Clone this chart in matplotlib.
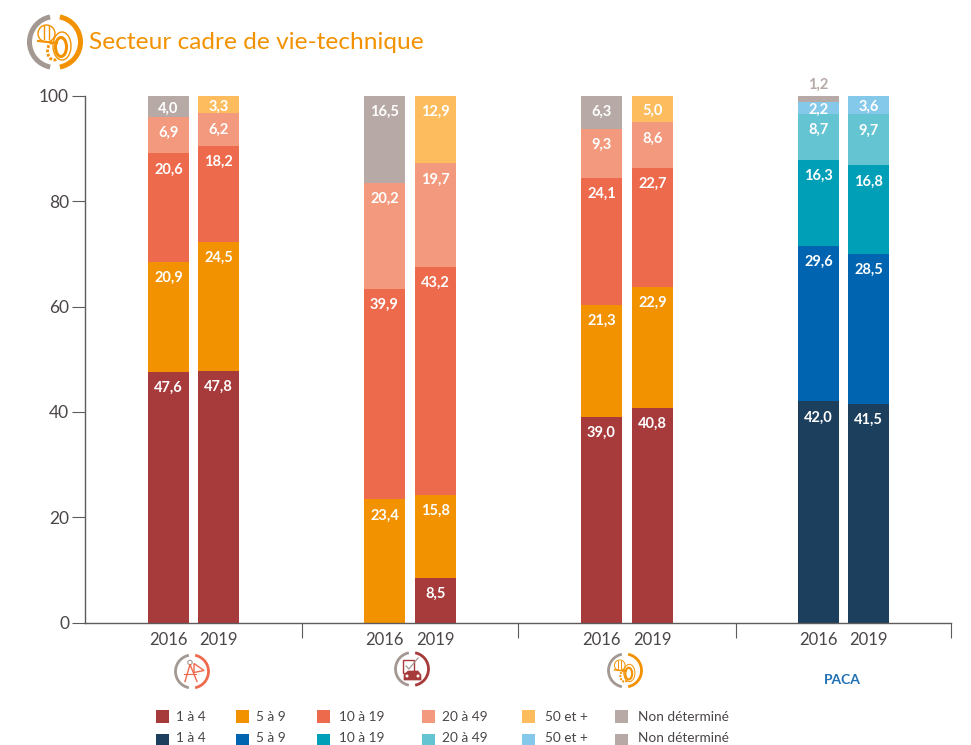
import matplotlib
matplotlib.use("Agg")
import matplotlib.pyplot as plt
from matplotlib.patches import Arc, Circle, Ellipse, Polygon, Rectangle

plt.rcParams['font.family'] = ['Lato', 'DejaVu Sans']

#--Donnees------------------------------
annees = ["2016", "2019"]
tranches = ["1 à 4", "5 à 9", "10 à 19", "20 à 49", "50 et +", "Non déterminé"]

archi_2016 = [47.6, 20.9, 20.6, 6.9, 0, 4.0]
archi_2019 = [47.8, 24.5, 18.2, 6.2, 3.3, 0]
auto_2016 = [0, 23.4, 39.9, 20.2, 0, 16.5]
auto_2019 = [8.5, 15.8, 43.2, 19.7, 12.9, 0]
tech_2016 = [39.0, 21.3, 24.1, 9.3, 0, 6.3]
tech_2019 = [40.8, 22.9, 22.7, 8.6, 5.0, 0]
paca_2016 = [42.0, 29.6, 16.3, 8.7, 2.2, 1.2]
paca_2019 = [41.5, 28.5, 16.8, 9.7, 3.6, 0]

couleurs_secteur = ["#a73a3b", "#f39200", "#ee6a4d", "#f3997d", "#fdbd5e", "#b7aaa6"]
couleurs_paca = ["#1c3f5e", "#0064b0", "#009fb8", "#65c4d2", "#85c9ea", "#b7aaa6"]

barres = [archi_2016, archi_2019, auto_2016, auto_2019,
          tech_2016, tech_2019, paca_2016, paca_2019]
couleurs = [couleurs_secteur] * 6 + [couleurs_paca] * 2
x_barres = [168.5, 218.5, 384.5, 435.5, 601.5, 652.5, 818.5, 868.5]
separateurs = [301.5, 518, 736, 951]

W, H = 971, 745
GRIS_TEXTE = "#4a4546"
GRIS_AXE = "#5f5a5b"
ORANGE = "#f39200"
GRIS_ICONE = "#a39892"
PX_PAR_UNITE = (622.5 - 96) / 100

fig = plt.figure(figsize=(W / 100, H / 100), dpi=100)
ax = fig.add_axes([85 / W, 1 - 622.5 / H, (951 - 85) / W, (622.5 - 96) / H])

#--Barres-------------------------------
for x, valeurs, cols in zip(x_barres, barres, couleurs):
    bas = 0
    for v, c in zip(valeurs, cols):
        if v == 0:
            continue
        ax.bar(x, v, bottom=bas, width=41, color=c, linewidth=0)
        haut_px = v * PX_PAR_UNITE
        texte = f"{v:.1f}".replace(".", ",")
        if haut_px < 8:
            # segment trop fin : valeur au dessus de la barre
            ax.annotate(texte, (x, bas + v), xytext=(0, 11 * 0.72), textcoords="offset points",
                        ha="center", va="center", color=c, fontsize=10.5, fontweight="bold",
                        annotation_clip=False)
        else:
            decal = min(14, haut_px / 2) + 2
            ax.annotate(texte, (x, bas + v), xytext=(0, -decal * 0.72), textcoords="offset points",
                        ha="center", va="center", color="white", fontsize=10.5, fontweight="bold",
                        annotation_clip=False)
        bas += v

#--Axes---------------------------------
ax.set_xlim(85, 951)
ax.set_ylim(0, 100)
ax.spines["top"].set_visible(False)
ax.spines["right"].set_visible(False)
for s in ["left", "bottom"]:
    ax.spines[s].set_color(GRIS_AXE)
    ax.spines[s].set_linewidth(1.0)
ax.set_yticks(range(0, 101, 20))
ax.tick_params(axis="y", length=9.5, width=0.8, color=GRIS_AXE, labelsize=12.5,
               labelcolor=GRIS_TEXTE, pad=2)
ax.set_xticks(x_barres)
ax.set_xticklabels(annees * 4)
ax.tick_params(axis="x", which="major", length=0, labelsize=12, labelcolor=GRIS_TEXTE, pad=6.5)
ax.set_xticks(separateurs, minor=True)
ax.tick_params(axis="x", which="minor", length=10.5, width=0.8, color=GRIS_AXE)

#--Calque en pixels : titre, icones, legende
px = fig.add_axes([0, 0, 1, 1], zorder=-1)
px.set_xlim(0, W)
px.set_ylim(H, 0)
px.axis("off")


def anneau(cx, cy, r, couleur, lw):
    px.add_patch(Arc((cx, cy), 2 * r, 2 * r, theta1=101, theta2=259, color=GRIS_ICONE, lw=lw))
    px.add_patch(Arc((cx, cy), 2 * r, 2 * r, theta1=-79, theta2=79, color=couleur, lw=lw))


def icone_tech(cx, cy, s, lw):
    # casque + pneu, s=1 pour l'icone du titre
    c = ORANGE
    px.add_patch(Ellipse((cx - 1 * s, cy + 9 * s), 13 * s, 18 * s, fc="white", ec=c, lw=2 * lw, ls=(0, (1, 0.6))))
    px.add_patch(Ellipse((cx + 7 * s, cy + 4 * s), 18 * s, 28 * s, fc="white", ec=c, lw=lw))
    px.add_patch(Ellipse((cx + 6 * s, cy + 5 * s), 11 * s, 19 * s, fc="white", ec=c, lw=2.2 * lw))
    px.add_patch(Circle((cx - 8.5 * s, cy - 8.5 * s), 8.5 * s, fc="white", ec=c, lw=lw))
    px.plot([cx - 17 * s, cx + 2 * s], [cy - 1 * s, cy + 1 * s], color=c, lw=1.5 * lw)
    px.plot([cx - 11 * s, cx - 11 * s], [cy - 16 * s, cy - 3 * s], color=c, lw=lw)
    px.plot([cx - 6 * s, cx - 6 * s], [cy - 16 * s, cy - 3 * s], color=c, lw=lw)


def icone_archi(cx, cy):
    c = "#ee6a4d"
    px.plot([cx - 7, cx - 2, cx + 5], [cy + 10, cy - 7, cy + 10], color=c, lw=1)
    px.plot([cx - 8, cx + 4], [cy + 2, cy + 2], color=c, lw=0.8)
    px.add_patch(Circle((cx - 2, cy - 9), 2.2, fc="white", ec=GRIS_ICONE, lw=0.8))
    px.add_patch(Polygon([[cx + 2, cy - 8], [cx + 12, cy - 1], [cx + 2, cy + 1]],
                         fill=False, ec=c, lw=1))


def icone_auto(cx, cy):
    c = "#a73a3b"
    px.add_patch(Rectangle((cx - 9, cy - 9), 11, 13, fill=False, ec=c, lw=1))
    px.plot([cx - 6, cx - 3, cx + 6], [cy - 3, cy + 0, cy - 11], color=GRIS_ICONE, lw=0.9)
    px.add_patch(Polygon([[cx - 4, cy + 2], [cx + 6, cy + 2], [cx + 9, cy + 6], [cx + 9, cy + 11],
                          [cx - 8, cy + 11], [cx - 8, cy + 6]], fc=c, ec=c, lw=0.5))
    px.add_patch(Circle((cx - 5, cy + 7), 1.5, fc="white", ec="none"))
    px.add_patch(Circle((cx + 6, cy + 7), 1.5, fc="white", ec="none"))


anneau(55, 42, 25.5, ORANGE, 3.6)
icone_tech(55, 42, 1.0, 1.0)
px.text(89, 49, "Secteur cadre de vie-technique", color=ORANGE, fontsize=17.6, va="baseline")

anneau(192, 671.5, 16.5, "#ee6a4d", 2)
icone_archi(192, 671.5)
anneau(412, 669, 16.5, "#a73a3b", 2)
icone_auto(412, 669)
anneau(625, 670.5, 16.5, ORANGE, 2)
icone_tech(625, 670.5, 0.62, 0.7)
px.text(842, 680, "PACA", color="#1f70b5", fontsize=10, fontweight="bold", ha="center", va="center")

#--Legende------------------------------
x_carres = [156, 236, 317, 422, 522, 615]
x_textes = [176, 256, 339, 442, 545, 638]
for y, yt, cols in zip([710, 734], [717, 738.5], [couleurs_secteur, couleurs_paca]):
    for xc, xt, c, t in zip(x_carres, x_textes, cols, tranches):
        px.add_patch(Rectangle((xc, y), 13, 13, fc=c, ec="none"))
        px.text(xt, yt, t, color=GRIS_TEXTE, fontsize=9.8, va="center")

fig.savefig("out.png", dpi=100)
